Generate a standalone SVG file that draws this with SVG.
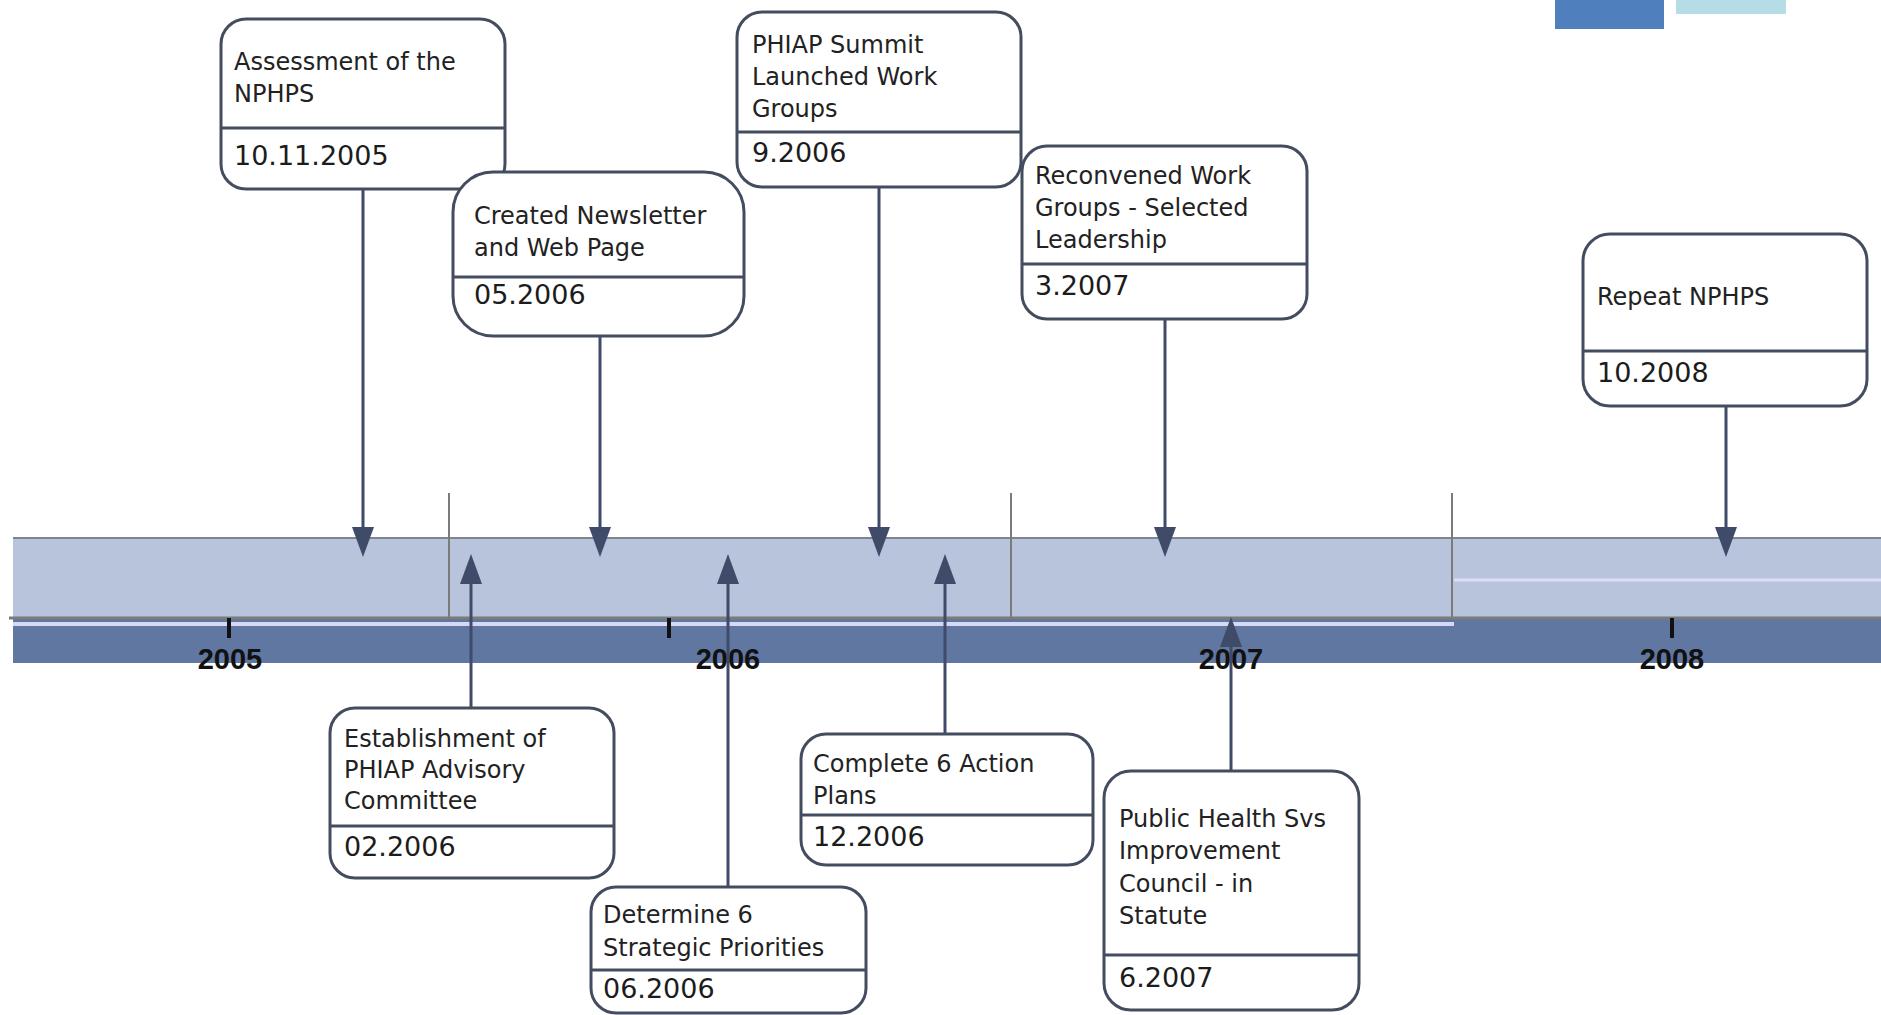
<svg xmlns="http://www.w3.org/2000/svg" width="1881" height="1015" viewBox="0 0 1881 1015">
  <style>
    .box { fill: #ffffff; stroke: #444d60; stroke-width: 3; }
    .sep { stroke: #444d60; stroke-width: 3; }
    .title { font-family: "DejaVu Sans", Verdana, sans-serif; font-size: 24px; fill: #222222; }
    .date { font-family: "DejaVu Sans", Verdana, sans-serif; font-size: 27px; fill: #1c1c1c; }
    .year { font-family: "Liberation Sans", Arial, sans-serif; font-size: 29px; font-weight: bold; fill: #111111; text-anchor: middle; }
    .conn { stroke: #3f4b68; stroke-width: 3; fill: none; marker-end: url(#head); }
    .divider { stroke: #7b7b7b; stroke-width: 2; }
    .tick { stroke: #111111; stroke-width: 4; }
  </style>
  <defs>
    <marker id="head" viewBox="0 0 30 22" refX="20" refY="11" markerWidth="30" markerHeight="22" markerUnits="userSpaceOnUse" orient="auto">
      <path d="M0,0 L30,11 L0,22 Z" fill="#3f4b68"/>
    </marker>
  </defs>

  <rect width="1881" height="1015" fill="#ffffff"/>

  <!-- legend swatches, top right -->
  <rect x="1555" y="0" width="109" height="29" fill="#4f80bd"/>
  <rect x="1676" y="0" width="110" height="14" fill="#b6dde6"/>

  <!-- timeline band -->
  <g id="timeline">
    <rect x="13" y="538" width="1868" height="80" fill="#b8c4db"/>
    <line x1="13" y1="538" x2="1881" y2="538" stroke="#7f8590" stroke-width="2"/>
    <rect x="13" y="619" width="1868" height="44" fill="#5f77a1"/>
    <line x1="13" y1="624" x2="1454" y2="624" stroke="#d6d8f4" stroke-width="4"/>
    <line x1="1454" y1="580" x2="1881" y2="580" stroke="#dcdcf4" stroke-width="3"/>
    <line x1="9" y1="618" x2="1881" y2="618" stroke="#7b7b7b" stroke-width="3"/>
    <line class="divider" x1="449" y1="493" x2="449" y2="618"/>
    <line class="divider" x1="1011" y1="493" x2="1011" y2="618"/>
    <line class="divider" x1="1452" y1="493" x2="1452" y2="618"/>
    <line class="tick" x1="229" y1="618" x2="229" y2="638"/>
    <line class="tick" x1="669" y1="618" x2="669" y2="638"/>
    <line class="tick" x1="1672" y1="618" x2="1672" y2="638" stroke-width="5"/>
    <text class="year" x="230" y="669">2005</text>
    <text class="year" x="728" y="669">2006</text>
    <text class="year" x="1231" y="669">2007</text>
    <text class="year" x="1672" y="669">2008</text>
  </g>

  <!-- connectors -->
  <g id="connectors">
    <line class="conn" x1="363" y1="189" x2="363" y2="547"/>
    <line class="conn" x1="600" y1="336" x2="600" y2="547"/>
    <line class="conn" x1="879" y1="187" x2="879" y2="547"/>
    <line class="conn" x1="1165" y1="319" x2="1165" y2="547"/>
    <line class="conn" x1="1726" y1="406" x2="1726" y2="547"/>
    <line class="conn" x1="471" y1="708" x2="471" y2="564"/>
    <line class="conn" x1="728" y1="887" x2="728" y2="564"/>
    <line class="conn" x1="945" y1="734" x2="945" y2="564"/>
    <line class="conn" x1="1231" y1="771" x2="1231" y2="627"/>
  </g>

  <!-- events above the timeline -->
  <g id="n-assessment">
    <rect class="box" x="221" y="19" width="284" height="170" rx="25"/>
    <line class="sep" x1="221" y1="128" x2="505" y2="128"/>
    <text class="title" x="234" y="70">Assessment of the</text>
    <text class="title" x="234" y="102">NPHPS</text>
    <text class="date" x="234" y="165">10.11.2005</text>
  </g>
  <g id="n-newsletter">
    <rect class="box" x="453" y="172" width="291" height="164" rx="40"/>
    <line class="sep" x1="453" y1="277" x2="744" y2="277"/>
    <text class="title" x="474" y="224">Created Newsletter</text>
    <text class="title" x="474" y="256">and Web Page</text>
    <text class="date" x="474" y="304">05.2006</text>
  </g>
  <g id="n-summit">
    <rect class="box" x="737" y="12" width="284" height="175" rx="25"/>
    <line class="sep" x1="737" y1="132" x2="1021" y2="132"/>
    <text class="title" x="752" y="53">PHIAP Summit</text>
    <text class="title" x="752" y="85">Launched Work</text>
    <text class="title" x="752" y="117">Groups</text>
    <text class="date" x="752" y="162">9.2006</text>
  </g>
  <g id="n-reconvened">
    <rect class="box" x="1022" y="146" width="285" height="173" rx="25"/>
    <line class="sep" x1="1022" y1="264" x2="1307" y2="264"/>
    <text class="title" x="1035" y="184">Reconvened Work</text>
    <text class="title" x="1035" y="216">Groups - Selected</text>
    <text class="title" x="1035" y="248">Leadership</text>
    <text class="date" x="1035" y="295">3.2007</text>
  </g>
  <g id="n-repeat">
    <rect class="box" x="1583" y="234" width="284" height="172" rx="27"/>
    <line class="sep" x1="1583" y1="351" x2="1867" y2="351"/>
    <text class="title" x="1597" y="305">Repeat NPHPS</text>
    <text class="date" x="1597" y="382">10.2008</text>
  </g>

  <!-- events below the timeline -->
  <g id="n-advisory">
    <rect class="box" x="330" y="708" width="284" height="170" rx="25"/>
    <line class="sep" x1="330" y1="826" x2="614" y2="826"/>
    <text class="title" x="344" y="747">Establishment of</text>
    <text class="title" x="344" y="778">PHIAP Advisory</text>
    <text class="title" x="344" y="809">Committee</text>
    <text class="date" x="344" y="856">02.2006</text>
  </g>
  <g id="n-priorities">
    <rect class="box" x="591" y="887" width="275" height="126" rx="25"/>
    <line class="sep" x1="591" y1="970" x2="866" y2="970"/>
    <text class="title" x="603" y="923">Determine 6</text>
    <text class="title" x="603" y="956">Strategic Priorities</text>
    <text class="date" x="603" y="998">06.2006</text>
  </g>
  <g id="n-actionplans">
    <rect class="box" x="801" y="734" width="292" height="131" rx="25"/>
    <line class="sep" x1="801" y1="815" x2="1093" y2="815"/>
    <text class="title" x="813" y="772">Complete 6 Action</text>
    <text class="title" x="813" y="804">Plans</text>
    <text class="date" x="813" y="846">12.2006</text>
  </g>
  <g id="n-council">
    <rect class="box" x="1104" y="771" width="255" height="239" rx="27"/>
    <line class="sep" x1="1104" y1="955" x2="1359" y2="955"/>
    <text class="title" x="1119" y="827">Public Health Svs</text>
    <text class="title" x="1119" y="859">Improvement</text>
    <text class="title" x="1119" y="892">Council - in</text>
    <text class="title" x="1119" y="924">Statute</text>
    <text class="date" x="1119" y="987">6.2007</text>
  </g>
</svg>
